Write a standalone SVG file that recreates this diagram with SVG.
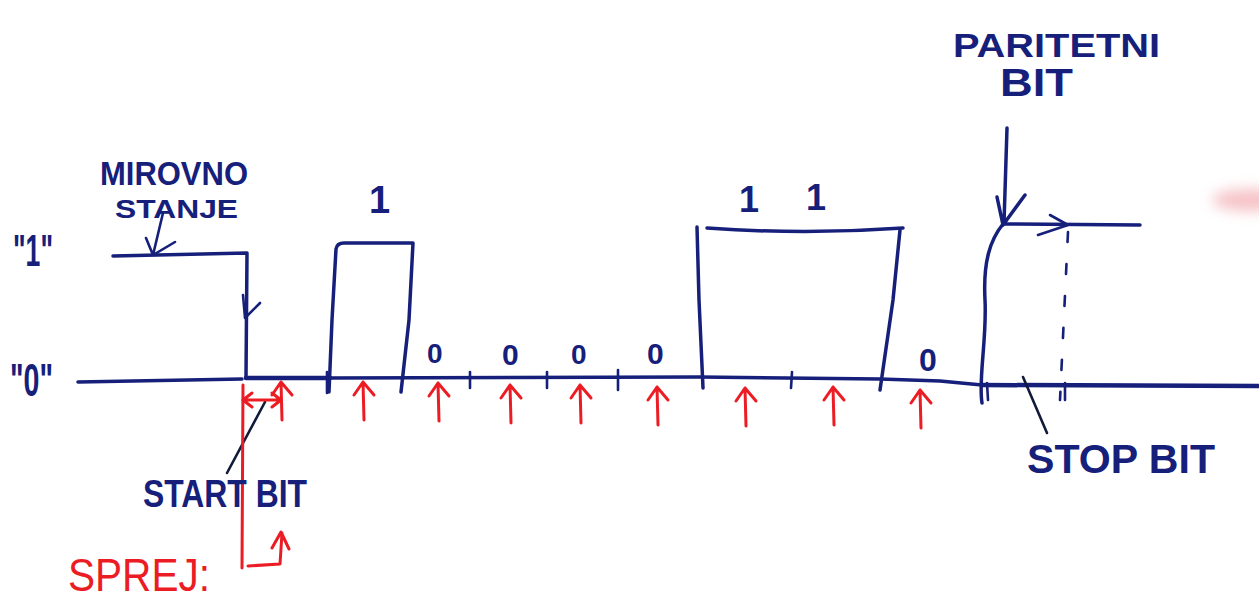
<svg xmlns="http://www.w3.org/2000/svg" width="1259" height="603" viewBox="0 0 1259 603">
  <defs>
    <style>
      .ink{fill:none;stroke:#16207a;stroke-width:3.5;stroke-linecap:round;stroke-linejoin:round}
      .thick{stroke-width:4.5}
      .thin{stroke-width:2.6}
      .red{fill:none;stroke:#ec1c24;stroke-width:3;stroke-linecap:round;stroke-linejoin:round}
      .lead{fill:none;stroke:#111a3a;stroke-width:2.6;stroke-linecap:round}
      .t{font-family:"Liberation Sans","DejaVu Sans",sans-serif;font-weight:700;fill:#16207a}
      .tr{font-family:"Liberation Sans","DejaVu Sans",sans-serif;font-weight:400;fill:#ec1c24}
    </style>
    <path id="ra" d="M0,0 L1,38 M-9,13 L0,0 L11,13"/>
    <filter id="blur" x="-50%" y="-100%" width="200%" height="300%"><feGaussianBlur stdDeviation="7"/></filter>
  </defs>
  <rect width="1259" height="603" fill="#ffffff"/>
  <ellipse cx="1250" cy="200" rx="38" ry="11" fill="#f3b3b8" opacity="0.8" filter="url(#blur)"/>

  <g id="waveform">
    <path class="ink" d="M78,382 L242,379"/>
    <path class="ink" d="M113,256 L247,253 L246,378"/>
    <path class="ink thick" d="M246,378 L330,378"/>
    <path class="ink" d="M330,378 L700,377 L880,379 L940,381 L982,385"/>
    <path class="ink thick" d="M982,385 L1259,386"/>
    <path class="ink" d="M329,392 L332,320 L336,249 Q337,243 344,243 L413,243 L409,320 L401,392"/>
    <path class="ink" d="M697,227 L699,300 L703,388"/>
    <path class="ink" d="M707,228 Q805,235 903,228"/>
    <path class="ink" d="M900,230 L893,300 L880,390"/>
    <path class="ink" d="M982,403 C978,380 987,340 985,300 C983,262 990,240 1003,224 L1140,225"/>
    <path class="ink thin" d="M1068,232 L1060,400" stroke-dasharray="10,22"/>
    <g class="ink thin">
      <path d="M327,372 L327,393"/>
      <path d="M470,372 L470,388"/>
      <path d="M547,372 L547,388"/>
      <path d="M618,370 L618,390"/>
      <path d="M792,372 L791,388"/>
      <path d="M987,383 L988,400"/>
      <path d="M1065,383 L1065,400"/>
    </g>
  </g>

  <g id="connectors">
    <path class="ink thin" d="M163,213 L153,255 M146,238 L153,255 L175,242"/>
    <path class="ink thin" d="M243,295 L245,318 L260,303"/>
    <path class="ink" d="M1007,128 L1004,223 M997,197 L1003,225 L1025,195"/>
    <path class="ink thin" d="M1050,215 L1068,225 L1038,235"/>
    <path class="lead" d="M1023,377 L1047,433"/>
    <path class="lead" d="M265,402 L227,473"/>
    <g class="red">
      <path d="M243,385 L242,568"/>
      <path d="M243,400 L281,400 M252,393 L243,400 L252,407 M272,393 L281,400 L272,407"/>
      <path d="M248,566 L280,564 L282,533 M272,548 L281,532 L289,549"/>
      <use href="#ra" x="281" y="382"/>
      <use href="#ra" x="363" y="382"/>
      <use href="#ra" x="438" y="383"/>
      <use href="#ra" x="510" y="385"/>
      <use href="#ra" x="580" y="385"/>
      <use href="#ra" x="657" y="387"/>
      <use href="#ra" x="745" y="388"/>
      <use href="#ra" x="833" y="387"/>
      <use href="#ra" x="920" y="390"/>
    </g>
  </g>

  <g id="level-labels">
    <text class="t" x="13" y="266" font-size="44" textLength="40" lengthAdjust="spacingAndGlyphs">"1"</text>
    <text class="t" x="10" y="396" font-size="46" textLength="43" lengthAdjust="spacingAndGlyphs">"0"</text>
  </g>

  <g id="idle-state">
    <text class="t" x="100" y="185" font-size="34" textLength="148" lengthAdjust="spacingAndGlyphs">MIROVNO</text>
    <text class="t" x="115" y="218" font-size="25" textLength="123" lengthAdjust="spacingAndGlyphs">STANJE</text>
  </g>

  <g id="bit-values">
    <text class="t" x="369" y="213" font-size="38">1</text>
    <text class="t" x="739" y="212" font-size="36">1</text>
    <text class="t" x="806" y="210" font-size="36">1</text>
    <text class="t" x="427" y="363" font-size="28">0</text>
    <text class="t" x="502" y="365" font-size="30">0</text>
    <text class="t" x="571" y="364" font-size="28">0</text>
    <text class="t" x="647" y="364" font-size="30">0</text>
    <text class="t" x="919" y="371" font-size="32">0</text>
  </g>

  <g id="parity-bit">
    <text class="t" x="953" y="57" font-size="34" textLength="207" lengthAdjust="spacingAndGlyphs">PARITETNI</text>
    <text class="t" x="1000" y="96" font-size="38" textLength="73" lengthAdjust="spacingAndGlyphs">BIT</text>
  </g>

  <g id="stop-bit">
    <text class="t" x="1027" y="473" font-size="40" textLength="188" lengthAdjust="spacingAndGlyphs">STOP BIT</text>
  </g>

  <g id="start-bit">
    <text class="t" x="143" y="507" font-size="38" textLength="164" lengthAdjust="spacingAndGlyphs">START BIT</text>
  </g>

  <g id="receive">
    <text class="tr" x="68" y="591" font-size="46" textLength="142" lengthAdjust="spacingAndGlyphs">SPREJ:</text>
  </g>
</svg>
